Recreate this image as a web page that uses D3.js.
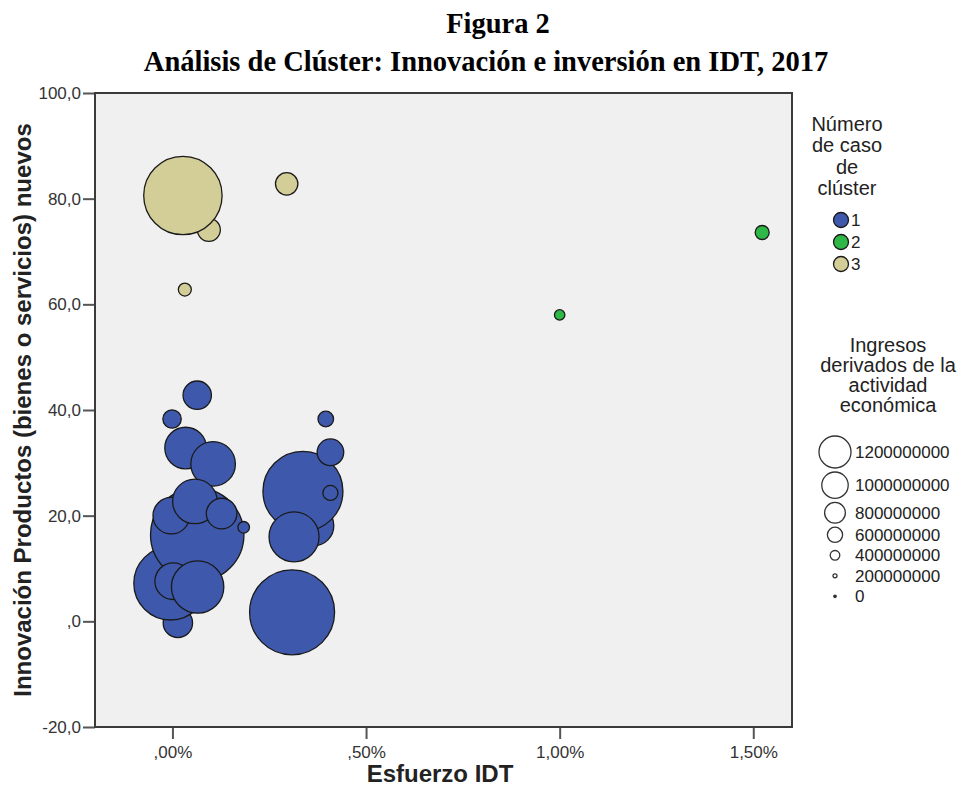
<!DOCTYPE html>
<html>
<head>
<meta charset="utf-8">
<script src="https://cdn.jsdelivr.net/npm/d3@7"></script>
<style>
    body { margin: 0; background: #ffffff; }
    svg text { font-family: "Liberation Sans", Arial, sans-serif; }
</style>
</head>
<body>
<div id="chart"></div>
<script>

// data: one entry per case (in drawing order)
let esfuerzo   = [0.094, 0.027, 0.295, 0.032, 1.523, 1.000,
                  0.014, -0.005, 0.064, 0.002, 0.065, 0.034, 0.105, -0.003, 0.058, 0.127, 0.184,
                  0.064, -0.001, 0.365, 0.337, 0.408, 0.408, 0.396, 0.314, 0.309];
let innovacion = [74.1, 80.6, 82.8, 62.8, 73.6, 58.0,
                  -0.3, 7.2, 16.4, 7.6, 6.5, 32.8, 29.8, 20.0, 22.7, 20.4, 17.8,
                  42.8, 38.3, 18.1, 24.6, 24.3, 32.0, 38.3, 16.0, 1.7];
let ingresos   = [879e6, 2857e6, 857e6, 521e6, 557e6, 429e6,
                  1107e6, 2679e6, 3393e6, 1364e6, 1929e6, 1543e6, 1650e6, 1364e6, 1650e6, 1150e6, 471e6,
                  1071e6, 714e6, 1486e6, 2914e6, 593e6, 1007e6, 614e6, 1843e6, 3093e6];
let cluster    = [3, 3, 3, 3, 2, 2,
                  1, 1, 1, 1, 1, 1, 1, 1, 1, 1, 1,
                  1, 1, 1, 1, 1, 1, 1, 1, 1];

let clusterIds = [1, 2, 3];
let clusterColors = ["#3e58ac", "#2eb848", "#d3ce97"];

let xTicks = [0, 0.5, 1.0, 1.5];
let xTickLabels = [",00%", ",50%", "1,00%", "1,50%"];
let yTicks = [-20, 0, 20, 40, 60, 80, 100];
let yTickLabels = ["-20,0", ",0", "20,0", "40,0", "60,0", "80,0", "100,0"];

let sizeLegendValues = [1200000000, 1000000000, 800000000, 600000000, 400000000, 200000000, 0];

let titleLines = ["Figura 2", "Análisis de Clúster: Innovación e inversión en IDT, 2017"];
let clusterLegendTitle = ["Número", "de caso", "de", "clúster"];
let sizeLegendTitle = ["Ingresos", "derivados de la", "actividad", "económica"];


let width = 961, height = 792;
let plot = {left: 95, right: 792, top: 93, bottom: 727};

let svg = d3.select("#chart").append("svg")
    .attr("width", width)
    .attr("height", height);

// title
svg.selectAll(".title")
    .data(titleLines)
    .enter()
    .append("text")
    .attr("class", "title")
    .attr("x", (d, i) => i === 0 ? 498 : 486)
    .attr("y", (d, i) => i === 0 ? 33 : 71)
    .attr("text-anchor", "middle")
    .style("font-family", "'Liberation Serif', 'Times New Roman', serif")
    .style("font-weight", "bold")
    .style("font-size", "28.5px")
    .text(d => d);

// scales
let x = d3.scaleLinear().domain([-0.2, 1.6]).range([plot.left, plot.right]);
let y = d3.scaleLinear().domain([-20, 100]).range([plot.bottom, plot.top]);
let r = d3.scaleLinear().domain([200000000, 1200000000]).range([2, 16]);
let radius = v => Math.max(1.2, r(v));
let color = d3.scaleOrdinal().domain(clusterIds).range(clusterColors);

// plot background
svg.append("rect")
    .attr("x", plot.left)
    .attr("y", plot.top)
    .attr("width", plot.right - plot.left)
    .attr("height", plot.bottom - plot.top)
    .attr("fill", "#f0f0f0");

// axes
let xAxis = svg.append("g")
    .attr("transform", `translate(0,${plot.bottom})`)
    .call(d3.axisBottom(x).tickValues(xTicks).tickFormat((d, i) => xTickLabels[i]).tickSize(12).tickPadding(7));

let yAxis = svg.append("g")
    .attr("transform", `translate(${plot.left},0)`)
    .call(d3.axisLeft(y).tickValues(yTicks).tickFormat((d, i) => yTickLabels[i]).tickSize(12).tickPadding(2));

[xAxis, yAxis].forEach(a => {
    a.select(".domain").remove();
    a.selectAll(".tick line").attr("stroke", "#555").attr("stroke-width", 2);
    a.selectAll(".tick text")
        .attr("fill", "#333")
        .style("font-size", "17px")
        .style("font-family", "'Liberation Sans', Arial, sans-serif");
});

// bubbles
let cases = esfuerzo.map((d, i) => ({x: d, y: innovacion[i], size: ingresos[i], cluster: cluster[i]}));

svg.append("g")
    .selectAll("circle")
    .data(cases)
    .enter()
    .append("circle")
    .attr("cx", d => x(d.x))
    .attr("cy", d => y(d.y))
    .attr("r", d => radius(d.size))
    .attr("fill", d => color(d.cluster))
    .attr("stroke", "#1a1a1a")
    .attr("stroke-width", 1.3);

// plot frame
svg.append("rect")
    .attr("x", plot.left)
    .attr("y", plot.top)
    .attr("width", plot.right - plot.left)
    .attr("height", plot.bottom - plot.top)
    .attr("fill", "none")
    .attr("stroke", "#3a3a3a")
    .attr("stroke-width", 2);

// axis titles
svg.append("text")
    .attr("x", 440)
    .attr("y", 782)
    .attr("text-anchor", "middle")
    .style("font-weight", "bold")
    .style("font-size", "24px")
    .attr("fill", "#222")
    .text("Esfuerzo IDT");

svg.append("text")
    .attr("transform", `translate(31,${(plot.top + plot.bottom) / 2}) rotate(-90)`)
    .attr("text-anchor", "middle")
    .style("font-weight", "bold")
    .style("font-size", "24px")
    .attr("fill", "#222")
    .text("Innovación Productos (bienes o servicios) nuevos");

// cluster legend
svg.selectAll(".clTitle")
    .data(clusterLegendTitle)
    .enter()
    .append("text")
    .attr("class", "clTitle")
    .attr("x", 847)
    .attr("y", (d, i) => 131 + i * 21.3)
    .attr("text-anchor", "middle")
    .attr("fill", "#222")
    .style("font-size", "20px")
    .text(d => d);

let clItems = svg.selectAll(".clItem")
    .data(clusterIds)
    .enter()
    .append("g")
    .attr("class", "clItem")
    .attr("transform", (d, i) => `translate(841,${220 + i * 22})`);

clItems.append("circle")
    .attr("r", 7.5)
    .attr("fill", d => color(d))
    .attr("stroke", "#1a1a1a")
    .attr("stroke-width", 1.3);

clItems.append("text")
    .attr("x", 10)
    .attr("dy", "0.36em")
    .attr("fill", "#222")
    .style("font-size", "17px")
    .text(d => d);

// size legend
svg.selectAll(".szTitle")
    .data(sizeLegendTitle)
    .enter()
    .append("text")
    .attr("class", "szTitle")
    .attr("x", 888)
    .attr("y", (d, i) => 352 + i * 20)
    .attr("text-anchor", "middle")
    .attr("fill", "#222")
    .style("font-size", "20px")
    .text(d => d);

let rowY = [];
sizeLegendValues.forEach((v, i) => {
    if (i === 0) rowY.push(452);
    else rowY.push(rowY[i - 1] + Math.max(radius(sizeLegendValues[i - 1]) + radius(v) + 4, 20.5));
});

let szItems = svg.selectAll(".szItem")
    .data(sizeLegendValues)
    .enter()
    .append("g")
    .attr("class", "szItem")
    .attr("transform", (d, i) => `translate(835,${rowY[i]})`);

szItems.append("circle")
    .attr("r", d => radius(d))
    .attr("fill", d => d === 0 ? "#333" : "none")
    .attr("stroke", "#333")
    .attr("stroke-width", 1.3);

szItems.append("text")
    .attr("x", 20)
    .attr("dy", "0.36em")
    .attr("fill", "#222")
    .style("font-size", "17px")
    .text(d => d3.format("d")(d));

</script>
</body>
</html>
